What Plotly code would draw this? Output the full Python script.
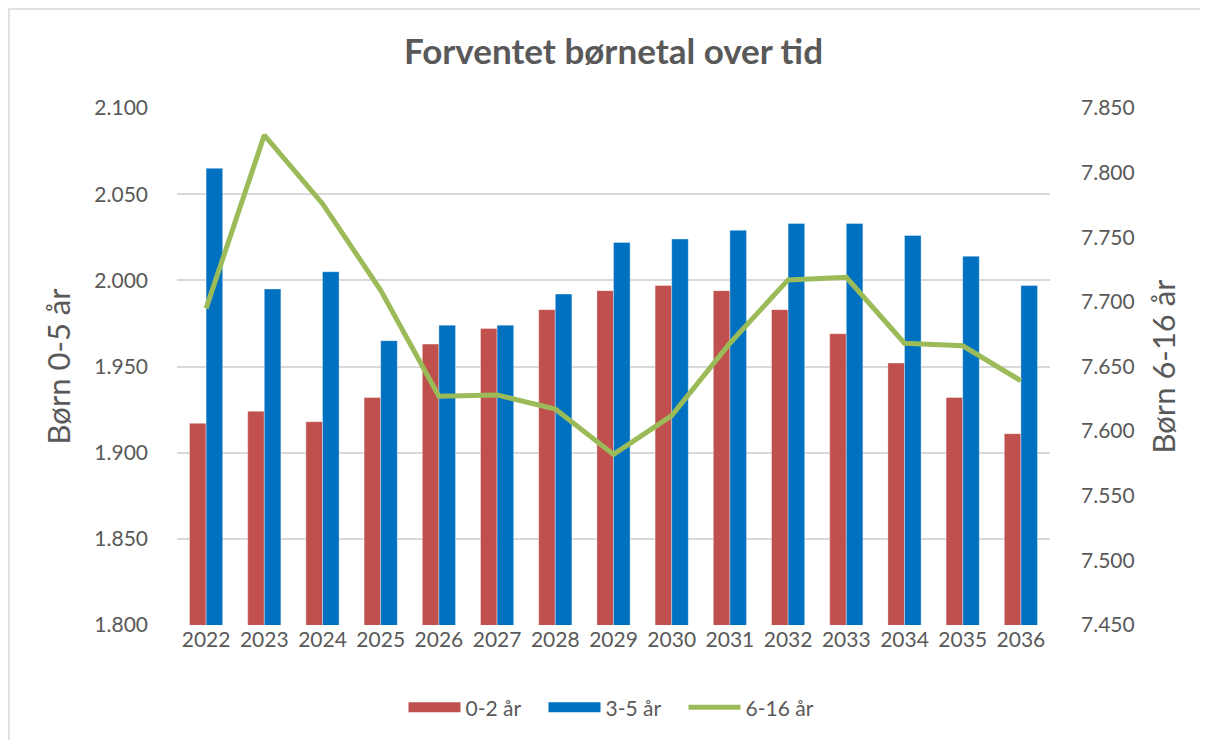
import plotly.graph_objects as go

# Data
years = [str(y) for y in range(2022, 2037)]
born_0_2 = [1917, 1924, 1918, 1932, 1963, 1972, 1983, 1994, 1997, 1994, 1983, 1969, 1952, 1932, 1911]
born_3_5 = [2065, 1995, 2005, 1965, 1974, 1974, 1992, 2022, 2024, 2029, 2033, 2033, 2026, 2014, 1997]
born_6_16 = [7695, 7829, 7776, 7709, 7627, 7628, 7617, 7582, 7612, 7668, 7717, 7719, 7668, 7666, 7639]

RED = "#C0504D"
BLUE = "#0070C0"
GREEN = "#9BBB59"
GREY = "#595959"
FONT = "Lato, 'Open Sans', sans-serif"

# page body has an 8px margin, so margins are shifted by 8px
W, H = 1208, 740
ML, MT = 169, 100
PW, PH = 873, 517

fig = go.Figure()
fig.add_trace(go.Bar(
    x=years, y=born_0_2, name="0-2 år", showlegend=False,
    marker=dict(color=RED, line=dict(color="rgba(255,255,255,0.6)", width=0.6)),
))
fig.add_trace(go.Bar(
    x=years, y=born_3_5, name="3-5 år", showlegend=False,
    marker=dict(color=BLUE, line=dict(color="rgba(255,255,255,0.6)", width=0.6)),
))
fig.add_trace(go.Scatter(
    x=years, y=born_6_16, name="6-16 år", yaxis="y2", showlegend=False,
    mode="lines", line=dict(color=GREEN, width=5),
))

# legend entries (Excel-style wide swatches)
for name, color, width in [("0-2 år", RED, 13), ("3-5 år", BLUE, 13), ("6-16 år", GREEN, 5)]:
    fig.add_trace(go.Scatter(
        x=[None], y=[None], name=name, mode="lines",
        line=dict(color=color, width=width),
    ))

# outer chart border (left/top visible, right/bottom run off the picture)
fig.add_shape(
    type="rect", xref="paper", yref="paper",
    x0=(1 - ML) / PW, x1=1.2, y0=-0.3, y1=(MT - 1) / PH + 1,
    line=dict(color="#D9D9D9", width=1.5), layer="below",
)

fig.update_layout(
    width=W, height=H,
    paper_bgcolor="white", plot_bgcolor="white",
    separators=",.",
    font=dict(family=FONT, size=21, color=GREY),
    title=dict(
        text="<b>Forventet børnetal over tid</b>",
        x=0.5, xref="paper", xanchor="center",
        y=1 - 44 / H, yanchor="middle",
        font=dict(size=35, color=GREY),
    ),
    margin=dict(l=ML, r=W - ML - PW, t=MT, b=H - MT - PH),
    barmode="group", bargap=0.43, bargroupgap=0,
    legend=dict(
        orientation="h", x=0.5, xanchor="center",
        y=-0.16, yanchor="middle",
        traceorder="normal", font=dict(size=21, color=GREY),
        itemwidth=52, entrywidth=73, entrywidthmode="pixels",
    ),
    showlegend=True,
    xaxis=dict(
        showgrid=False, showline=False, ticks="",
        tickfont=dict(size=21, color=GREY),
    ),
    yaxis=dict(
        range=[1800, 2100], dtick=50, tickformat=",d",
        showgrid=True, gridcolor="#D9D9D9", gridwidth=1.5,
        zeroline=False, showline=False, ticks="",
        ticklabelstandoff=28,
        title=dict(text="Børn 0-5 år", font=dict(size=31, color=GREY), standoff=14),
    ),
    yaxis2=dict(
        range=[7450, 7850], dtick=50, tickformat=",d",
        overlaying="y", side="right",
        showgrid=False, zeroline=False, showline=False, ticks="",
        ticklabelstandoff=30,
        title=dict(text="Børn 6-16 år", font=dict(size=31, color=GREY), standoff=19),
    ),
)

fig.write_html("out.html")
